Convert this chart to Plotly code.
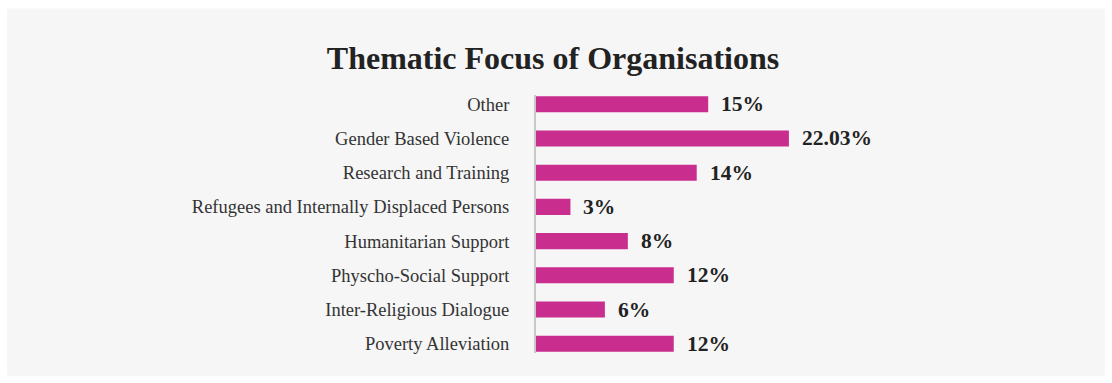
import plotly.graph_objects as go

# Thematic focus categories (top to bottom) and share of organisations (%)
categories = [
    "Other",
    "Gender Based Violence",
    "Research and Training",
    "Refugees and Internally Displaced Persons",
    "Humanitarian Support",
    "Physcho-Social Support",
    "Inter-Religious Dialogue",
    "Poverty Alleviation",
]
shares = [15, 22.03, 14, 3, 8, 12, 6, 12]

labels = [f"{v:g}%" for v in shares]

W, H = 1112, 383
PLOT_L, PLOT_R = 536, 880
PLOT_T, PLOT_B = 94.7, 353.3
pw, ph = PLOT_R - PLOT_L, PLOT_B - PLOT_T

BAR_COLOR = "#C92E8F"
PANEL = "#F6F6F6"
SERIF = "Liberation Serif, Times New Roman, serif"

fig = go.Figure(
    go.Bar(
        x=shares,
        y=categories,
        orientation="h",
        marker=dict(color=BAR_COLOR, line=dict(width=0)),
        width=0.47,
        hoverinfo="skip",
    )
)

# value labels to the right of each bar
for cat, v, lab in zip(categories, shares, labels):
    fig.add_annotation(
        x=v, y=cat, text=f"<b>{lab}</b>", showarrow=False,
        xanchor="left", yanchor="middle", xshift=11,
        font=dict(family=SERIF, size=21.5, color="#222222"),
    )

# light grey panel behind the chart
def px_x(p):
    return (p - PLOT_L) / pw

def px_y(q):
    return (PLOT_B - q) / ph

fig.add_shape(
    type="rect", xref="paper", yref="paper", layer="below",
    x0=px_x(7), x1=px_x(1105), y0=px_y(376), y1=px_y(8),
    fillcolor=PANEL, line=dict(width=0),
)

fig.update_layout(
    width=W, height=H,
    margin=dict(l=PLOT_L, r=W - PLOT_R, t=PLOT_T, b=H - PLOT_B, pad=0),
    paper_bgcolor="white",
    plot_bgcolor="rgba(0,0,0,0)",
    showlegend=False,
    title=dict(
        text="<b>Thematic Focus of Organisations</b>",
        x=553 / W, xref="container", xanchor="center",
        y=1 - 58 / H, yref="container", yanchor="middle",
        font=dict(family=SERIF, size=32, color="#222222"),
    ),
    xaxis=dict(
        range=[0, pw / 11.48], visible=False, fixedrange=True,
    ),
    yaxis=dict(
        categoryorder="array", categoryarray=categories,
        autorange=False, range=[7.27, -0.27],
        showline=True, linecolor="#C8C8C8", linewidth=2,
        showgrid=False, zeroline=False, ticks="",
        ticklabelstandoff=21,
        tickfont=dict(family=SERIF, size=18.5, color="#333333"),
    ),
)

fig.write_html("out.html")
